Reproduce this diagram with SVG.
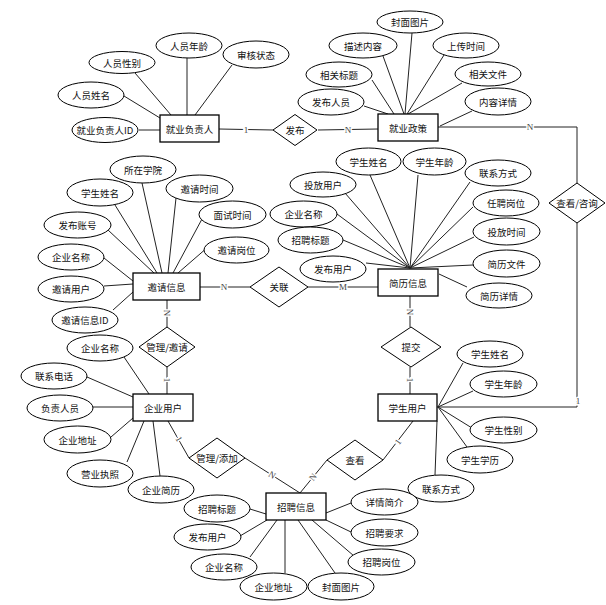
<svg xmlns="http://www.w3.org/2000/svg" width="606" height="605" viewBox="0 0 606 605">
<style>
.e{fill:#fff;stroke:#000;stroke-width:1}
.r{fill:#fff;stroke:#000;stroke-width:1.3}
.d{fill:#fff;stroke:#000;stroke-width:1}
.t{font-family:"Noto Sans CJK SC","Liberation Sans",sans-serif;font-size:9.5px;fill:#111;text-anchor:middle;dominant-baseline:central}
.c line,.c polyline{stroke:#222;stroke-width:1;fill:none}
.k{font-family:"Liberation Serif",serif;font-size:9px;fill:#444;text-anchor:middle;dominant-baseline:central;stroke:#fff;stroke-width:3;paint-order:stroke}
</style>
<rect width="606" height="605" fill="#fff"/>
<g id="connectors" class="c">
<line x1="139" y1="130" x2="160" y2="130"/>
<line x1="124" y1="96" x2="160" y2="118"/>
<line x1="135" y1="73" x2="171" y2="115"/>
<line x1="187" y1="58" x2="187" y2="115"/>
<line x1="232" y1="65" x2="195" y2="115"/>
<line x1="219" y1="129" x2="273" y2="130"/>
<line x1="318" y1="130" x2="378" y2="129"/>
<line x1="412" y1="33" x2="405" y2="114"/>
<line x1="383" y1="56" x2="404" y2="114"/>
<line x1="444" y1="55" x2="407" y2="114"/>
<line x1="372" y1="80" x2="394" y2="114"/>
<line x1="462" y1="83" x2="408" y2="114"/>
<line x1="364" y1="106" x2="388" y2="114"/>
<line x1="472" y1="111" x2="440" y2="126"/>
<polyline points="438,127 577,127 577,183"/>
<polyline points="577,223 577,407 437,407"/>
<line x1="370" y1="175" x2="410" y2="268"/>
<line x1="418" y1="175" x2="410" y2="268"/>
<line x1="470" y1="182" x2="410" y2="268"/>
<line x1="345" y1="193" x2="410" y2="268"/>
<line x1="473" y1="207" x2="410" y2="268"/>
<line x1="337" y1="214" x2="410" y2="268"/>
<line x1="474" y1="237" x2="410" y2="268"/>
<line x1="343" y1="240" x2="410" y2="268"/>
<line x1="366" y1="263" x2="410" y2="268"/>
<line x1="473" y1="265" x2="410" y2="268"/>
<line x1="467" y1="287" x2="439" y2="274"/>
<line x1="308" y1="287" x2="378" y2="287"/>
<line x1="410" y1="296" x2="410" y2="327"/>
<line x1="410" y1="367" x2="410" y2="394"/>
<line x1="142" y1="183" x2="162" y2="273"/>
<line x1="115" y1="205" x2="157" y2="273"/>
<line x1="176" y1="198" x2="168" y2="273"/>
<line x1="108" y1="230" x2="154" y2="273"/>
<line x1="202" y1="219" x2="173" y2="273"/>
<line x1="104" y1="258" x2="133" y2="281"/>
<line x1="208" y1="247" x2="178" y2="273"/>
<line x1="104" y1="286" x2="133" y2="284"/>
<line x1="113" y1="310" x2="133" y2="292"/>
<line x1="200" y1="287" x2="250" y2="287"/>
<line x1="167" y1="300" x2="167" y2="327"/>
<line x1="167" y1="367" x2="167" y2="394"/>
<line x1="124" y1="357" x2="149" y2="394"/>
<line x1="87" y1="377" x2="133" y2="397"/>
<line x1="93" y1="407" x2="133" y2="407"/>
<line x1="111" y1="437" x2="133" y2="418"/>
<line x1="127" y1="462" x2="144" y2="421"/>
<line x1="160" y1="476" x2="153" y2="421"/>
<line x1="168" y1="421" x2="189" y2="458"/>
<line x1="245" y1="458" x2="300" y2="493"/>
<line x1="383" y1="460" x2="413" y2="421"/>
<line x1="327" y1="460" x2="300" y2="493"/>
<line x1="463" y1="363" x2="438" y2="407"/>
<line x1="473" y1="391" x2="438" y2="407"/>
<line x1="472" y1="428" x2="438" y2="407"/>
<line x1="467" y1="447" x2="438" y2="407"/>
<line x1="435" y1="475" x2="437" y2="421"/>
<line x1="250" y1="509" x2="266" y2="514"/>
<line x1="240" y1="536" x2="267" y2="520"/>
<line x1="250" y1="557" x2="277" y2="520"/>
<line x1="285" y1="573" x2="285" y2="520"/>
<line x1="335" y1="573" x2="298" y2="520"/>
<line x1="354" y1="556" x2="312" y2="520"/>
<line x1="351" y1="532" x2="326" y2="520"/>
<line x1="351" y1="503" x2="326" y2="513"/>
<text class="k" x="246" y="130">1</text>
<text class="k" x="348" y="130">N</text>
<text class="k" x="530" y="127">N</text>
<text class="k" x="578" y="401">1</text>
<text class="k" x="343" y="287">M</text>
<text class="k" x="224" y="287">N</text>
<text class="k" transform="translate(167,313) rotate(90)">N</text>
<text class="k" transform="translate(167,380) rotate(90)">1</text>
<text class="k" transform="translate(410,312) rotate(90)">N</text>
<text class="k" transform="translate(410,380) rotate(90)">1</text>
<text class="k" transform="translate(179,439) rotate(60)">1</text>
<text class="k" transform="translate(272,475) rotate(32)">N</text>
<text class="k" transform="translate(398,442) rotate(-52)">1</text>
<text class="k" transform="translate(313,477) rotate(-51)">N</text>
</g>
<g id="e-jyfzr"><rect class="r" x="160" y="115" width="59" height="27"/><text class="t" x="189.5" y="128.5">就业负责人</text></g>
<g id="e-jyzc"><rect class="r" x="378" y="114" width="60" height="27"/><text class="t" x="408" y="127.5">就业政策</text></g>
<g id="e-yqxx"><rect class="r" x="133" y="273" width="67" height="27"/><text class="t" x="166.5" y="286.5">邀请信息</text></g>
<g id="e-jlxx"><rect class="r" x="378" y="269" width="60" height="27"/><text class="t" x="408" y="282.5">简历信息</text></g>
<g id="e-qyyh"><rect class="r" x="133" y="394" width="60" height="27"/><text class="t" x="163" y="407.5">企业用户</text></g>
<g id="e-xsyh"><rect class="r" x="378" y="394" width="59" height="27"/><text class="t" x="407.5" y="407.5">学生用户</text></g>
<g id="e-zpxx"><rect class="r" x="266" y="493" width="60" height="27"/><text class="t" x="296" y="506.5">招聘信息</text></g>
<g id="r-fb"><polygon class="d" points="273,130 295,114.5 317,130 295,145.5"/><text class="t" x="295" y="130">发布</text></g>
<g id="r-ckzx"><polygon class="d" points="549,203 577,183 605,203 577,223"/><text class="t" x="577" y="203">查看/咨询</text></g>
<g id="r-gl"><polygon class="d" points="250,287 279,267 308,287 279,307"/><text class="t" x="279" y="287">关联</text></g>
<g id="r-glyq"><polygon class="d" points="139,347 167,327 195,347 167,367"/><text class="t" x="167" y="347">管理/邀请</text></g>
<g id="r-tj"><polygon class="d" points="381,347 411,327 441,347 411,367"/><text class="t" x="411" y="347">提交</text></g>
<g id="r-gltj"><polygon class="d" points="189,458 217,438 245,458 217,478"/><text class="t" x="217" y="458">管理/添加</text></g>
<g id="r-ck"><polygon class="d" points="327,460 355,440 383,460 355,480"/><text class="t" x="355" y="460">查看</text></g>
<g id="a1"><ellipse class="e" cx="105" cy="130" rx="33" ry="12.5"/><text class="t" x="105" y="130">就业负责人ID</text></g>
<g id="a2"><ellipse class="e" cx="91" cy="95" rx="33" ry="13"/><text class="t" x="91" y="95">人员姓名</text></g>
<g id="a3"><ellipse class="e" cx="122" cy="62.5" rx="33" ry="11"/><text class="t" x="122" y="62.5">人员性别</text></g>
<g id="a4"><ellipse class="e" cx="189" cy="45.5" rx="33" ry="12.5"/><text class="t" x="189" y="45.5">人员年龄</text></g>
<g id="a5"><ellipse class="e" cx="256" cy="54.5" rx="33" ry="13.5"/><text class="t" x="256" y="54.5">审核状态</text></g>
<g id="a6"><ellipse class="e" cx="410" cy="22" rx="33" ry="11"/><text class="t" x="410" y="22">封面图片</text></g>
<g id="a7"><ellipse class="e" cx="363" cy="45.5" rx="34" ry="12.5"/><text class="t" x="363" y="45.5">描述内容</text></g>
<g id="a8"><ellipse class="e" cx="466" cy="45.5" rx="33" ry="12.5"/><text class="t" x="466" y="45.5">上传时间</text></g>
<g id="a9"><ellipse class="e" cx="339" cy="74.5" rx="33" ry="12.5"/><text class="t" x="339" y="74.5">相关标题</text></g>
<g id="a10"><ellipse class="e" cx="488" cy="74" rx="33" ry="12"/><text class="t" x="488" y="74">相关文件</text></g>
<g id="a11"><ellipse class="e" cx="331" cy="102" rx="33" ry="13"/><text class="t" x="331" y="102">发布人员</text></g>
<g id="a12"><ellipse class="e" cx="498" cy="101.5" rx="33" ry="13.5"/><text class="t" x="498" y="101.5">内容详情</text></g>
<g id="a13"><ellipse class="e" cx="143" cy="169.5" rx="33" ry="13.5"/><text class="t" x="143" y="169.5">所在学院</text></g>
<g id="a14"><ellipse class="e" cx="100" cy="192.5" rx="33" ry="13.5"/><text class="t" x="100" y="192.5">学生姓名</text></g>
<g id="a15"><ellipse class="e" cx="199.5" cy="188.5" rx="33.5" ry="13.5"/><text class="t" x="199.5" y="188.5">邀请时间</text></g>
<g id="a16"><ellipse class="e" cx="77.5" cy="225" rx="33.5" ry="13"/><text class="t" x="77.5" y="225">发布账号</text></g>
<g id="a17"><ellipse class="e" cx="232.5" cy="214.5" rx="33.5" ry="13.5"/><text class="t" x="232.5" y="214.5">面试时间</text></g>
<g id="a18"><ellipse class="e" cx="71" cy="257" rx="33" ry="13"/><text class="t" x="71" y="257">企业名称</text></g>
<g id="a19"><ellipse class="e" cx="236.5" cy="250" rx="32.5" ry="13"/><text class="t" x="236.5" y="250">邀请岗位</text></g>
<g id="a20"><ellipse class="e" cx="71" cy="289" rx="33" ry="13"/><text class="t" x="71" y="289">邀请用户</text></g>
<g id="a21"><ellipse class="e" cx="85" cy="320" rx="33" ry="13"/><text class="t" x="85" y="320">邀请信息ID</text></g>
<g id="a22"><ellipse class="e" cx="368.5" cy="161.5" rx="32.5" ry="13.5"/><text class="t" x="368.5" y="161.5">学生姓名</text></g>
<g id="a23"><ellipse class="e" cx="434.5" cy="161.5" rx="31.5" ry="13.5"/><text class="t" x="434.5" y="161.5">学生年龄</text></g>
<g id="a24"><ellipse class="e" cx="498" cy="173" rx="33" ry="13"/><text class="t" x="498" y="173">联系方式</text></g>
<g id="a25"><ellipse class="e" cx="323" cy="184.5" rx="33" ry="12.5"/><text class="t" x="323" y="184.5">投放用户</text></g>
<g id="a26"><ellipse class="e" cx="506" cy="203" rx="33" ry="13"/><text class="t" x="506" y="203">任聘岗位</text></g>
<g id="a27"><ellipse class="e" cx="303.5" cy="214" rx="33.5" ry="13"/><text class="t" x="303.5" y="214">企业名称</text></g>
<g id="a28"><ellipse class="e" cx="506.5" cy="231.5" rx="33.5" ry="13.5"/><text class="t" x="506.5" y="231.5">投放时间</text></g>
<g id="a29"><ellipse class="e" cx="310.5" cy="240" rx="32.5" ry="13"/><text class="t" x="310.5" y="240">招聘标题</text></g>
<g id="a30"><ellipse class="e" cx="333" cy="269" rx="33" ry="13"/><text class="t" x="333" y="269">发布用户</text></g>
<g id="a31"><ellipse class="e" cx="506.5" cy="263.5" rx="33.5" ry="13.5"/><text class="t" x="506.5" y="263.5">简历文件</text></g>
<g id="a32"><ellipse class="e" cx="499" cy="295.5" rx="33" ry="12.5"/><text class="t" x="499" y="295.5">简历详情</text></g>
<g id="a33"><ellipse class="e" cx="100" cy="348" rx="33" ry="13"/><text class="t" x="100" y="348">企业名称</text></g>
<g id="a34"><ellipse class="e" cx="54" cy="376" rx="33" ry="13"/><text class="t" x="54" y="376">联系电话</text></g>
<g id="a35"><ellipse class="e" cx="60" cy="408" rx="33" ry="13"/><text class="t" x="60" y="408">负责人员</text></g>
<g id="a36"><ellipse class="e" cx="77.5" cy="439.5" rx="33.5" ry="13.5"/><text class="t" x="77.5" y="439.5">企业地址</text></g>
<g id="a37"><ellipse class="e" cx="100" cy="473.5" rx="33" ry="13.5"/><text class="t" x="100" y="473.5">营业执照</text></g>
<g id="a38"><ellipse class="e" cx="161" cy="489.5" rx="33" ry="13.5"/><text class="t" x="161" y="489.5">企业简历</text></g>
<g id="a39"><ellipse class="e" cx="490" cy="354" rx="33" ry="13"/><text class="t" x="490" y="354">学生姓名</text></g>
<g id="a40"><ellipse class="e" cx="503.5" cy="384" rx="33.5" ry="13"/><text class="t" x="503.5" y="384">学生年龄</text></g>
<g id="a41"><ellipse class="e" cx="503.5" cy="430" rx="33.5" ry="13"/><text class="t" x="503.5" y="430">学生性别</text></g>
<g id="a42"><ellipse class="e" cx="480" cy="459.5" rx="33" ry="13.5"/><text class="t" x="480" y="459.5">学生学历</text></g>
<g id="a43"><ellipse class="e" cx="441" cy="488.5" rx="33" ry="13.5"/><text class="t" x="441" y="488.5">联系方式</text></g>
<g id="a44"><ellipse class="e" cx="217" cy="508.5" rx="33" ry="13.5"/><text class="t" x="217" y="508.5">招聘标题</text></g>
<g id="a45"><ellipse class="e" cx="207.5" cy="537" rx="33.5" ry="13"/><text class="t" x="207.5" y="537">发布用户</text></g>
<g id="a46"><ellipse class="e" cx="224" cy="567" rx="33" ry="13"/><text class="t" x="224" y="567">企业名称</text></g>
<g id="a47"><ellipse class="e" cx="273.5" cy="586.5" rx="33.5" ry="13.5"/><text class="t" x="273.5" y="586.5">企业地址</text></g>
<g id="a48"><ellipse class="e" cx="341" cy="586.5" rx="33" ry="13.5"/><text class="t" x="341" y="586.5">封面图片</text></g>
<g id="a49"><ellipse class="e" cx="384.5" cy="502" rx="33.5" ry="13"/><text class="t" x="384.5" y="502">详情简介</text></g>
<g id="a50"><ellipse class="e" cx="384.5" cy="532.5" rx="33.5" ry="13.5"/><text class="t" x="384.5" y="532.5">招聘要求</text></g>
<g id="a51"><ellipse class="e" cx="381.5" cy="562" rx="33.5" ry="13"/><text class="t" x="381.5" y="562">招聘岗位</text></g>
</svg>
